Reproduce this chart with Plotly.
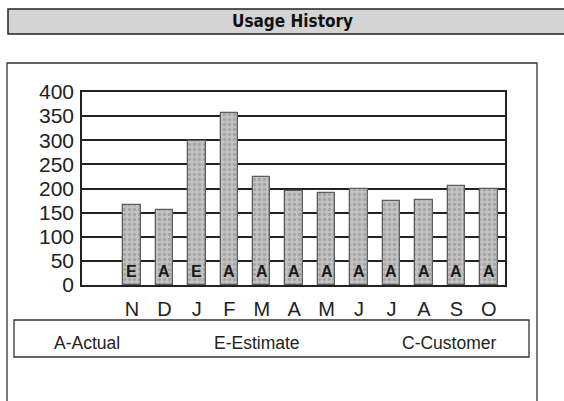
import plotly.graph_objects as go

months = ["N", "D", "J", "F", "M", "A", "M", "J", "J", "A", "S", "O"]
usage = [166, 155, 298, 356, 224, 194, 191, 199, 174, 176, 205, 199]
read_type = ["E", "A", "E", "A", "A", "A", "A", "A", "A", "A", "A", "A"]
y_ticks = [0, 50, 100, 150, 200, 250, 300, 350, 400]
legend_items = ["A-Actual", "E-Estimate", "C-Customer"]

W, H = 564, 401
def px(x):
    return x / W
def py(y):
    return 1 - y / H

idx = list(range(len(months)))

fig = go.Figure()
fig.add_trace(go.Bar(
    x=idx, y=usage, width=0.54,
    marker=dict(color="#b4b4b4", line=dict(color="#5e5e5e", width=1.3),
                pattern=dict(shape=".", fgcolor="#888888", bgcolor="#c2c2c2", size=5, solidity=0.35)),
    showlegend=False, hoverinfo="skip",
))

for i, t in zip(idx, read_type):
    fig.add_annotation(x=i, y=27, text="<b>" + t + "</b>", showarrow=False,
                       font=dict(family="Liberation Sans, Arial", size=16, color="#1a1a1a"),
                       xref="x", yref="y")

shapes = []
# title bar
shapes.append(dict(type="rect", xref="paper", yref="paper", x0=px(8), x1=px(570), y0=py(34), y1=py(9),
                   line=dict(color="#222", width=1.5), fillcolor="#d4d4d4", layer="below"))
# outer box
shapes.append(dict(type="rect", xref="paper", yref="paper", x0=px(7), x1=px(537), y0=py(410), y1=py(63),
                   line=dict(color="#333", width=1.3), fillcolor="rgba(0,0,0,0)", layer="below"))
# legend box
shapes.append(dict(type="rect", xref="paper", yref="paper", x0=px(14), x1=px(529), y0=py(357), y1=py(320),
                   line=dict(color="#333", width=1.3), fillcolor="rgba(0,0,0,0)", layer="below"))

fig.add_annotation(xref="paper", yref="paper", x=px(292), y=py(21), text="<b>Usage History</b>",
                   showarrow=False, font=dict(family="DejaVu Sans Condensed, DejaVu Sans", size=17, color="#111"),
                   xanchor="center", yanchor="middle")

leg_x = [52, 212, 400]
for lx, lt in zip(leg_x, legend_items):
    fig.add_annotation(xref="paper", yref="paper", x=px(lx), y=py(343), text=lt, showarrow=False,
                       xanchor="left", yanchor="middle",
                       font=dict(family="Liberation Sans, Arial", size=17.5, color="#222"))

fig.update_layout(
    width=W, height=H, margin=dict(l=0, r=0, t=0, b=0, pad=0, autoexpand=False),
    paper_bgcolor="white", plot_bgcolor="white",
    shapes=shapes, bargap=0,
    xaxis=dict(domain=[px(82), px(505)], range=[-1.54, 11.5], tickmode="array", tickvals=idx, ticktext=months,
               showgrid=False, showline=True, linecolor="#222", linewidth=1.5, mirror=True,
               ticks="outside", ticklen=5, tickcolor="rgba(0,0,0,0)",
               automargin=False,
               tickfont=dict(family="Liberation Sans, Arial", size=20, color="#222"), zeroline=False),
    yaxis=dict(domain=[py(285), py(92)], range=[0, 400], tickmode="array", tickvals=y_ticks,
               showgrid=True, gridcolor="#222", gridwidth=1.5, showline=True, linecolor="#222", linewidth=1.5,
               mirror=True, ticks="outside", ticklen=2, tickcolor="rgba(0,0,0,0)", zeroline=False, automargin=False,
               tickfont=dict(family="Liberation Sans, Arial", size=21, color="#222")),
)

fig.write_html("out.html", config={"displayModeBar": False},
               post_script="document.body.style.margin='0';document.body.style.overflow='hidden';")
